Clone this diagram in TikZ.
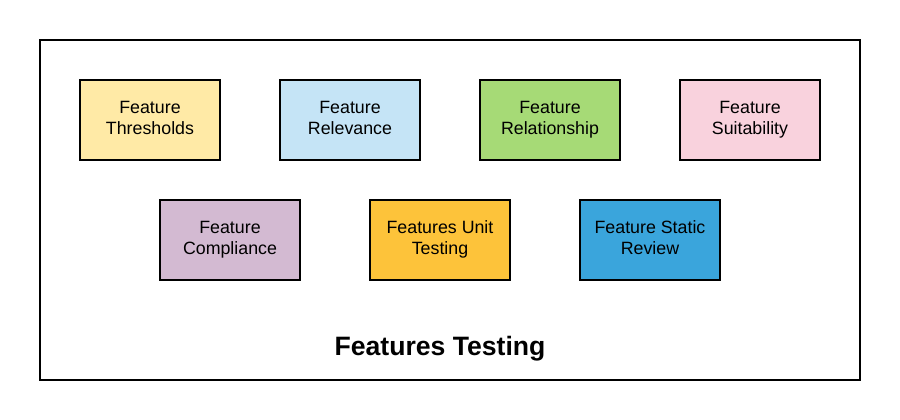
\documentclass[tikz,border=0pt]{standalone}
\usepackage{fontspec}
\setmainfont{Liberation Sans}
\definecolor{cThr}{HTML}{FFEAA6}
\definecolor{cRel}{HTML}{C5E4F6}
\definecolor{cRsh}{HTML}{A6DA76}
\definecolor{cSui}{HTML}{F9D2DD}
\definecolor{cCom}{HTML}{D3BAD2}
\definecolor{cUni}{HTML}{FDC33A}
\definecolor{cSta}{HTML}{3AA5DC}
\newcommand{\twolines}[2]{\strut#1\strut\\\strut#2\strut}
\begin{document}
\begin{tikzpicture}[x=1pt,y=-1pt,
  featbox/.style={draw=black,line width=2pt,minimum width=140pt,minimum height=80pt,align=center,font=\fontsize{17.8}{21}\selectfont,inner sep=0pt}]
\useasboundingbox (0,0) rectangle (900,420);
\draw[line width=2pt] (40,40) rectangle (860,380);
\node[featbox,fill=cThr] (thr) at (150,120) {\twolines{Feature}{Thresholds}};
\node[featbox,fill=cRel] (rel) at (350,120) {\twolines{Feature}{Relevance}};
\node[featbox,fill=cRsh] (rsh) at (550,120) {\twolines{Feature}{Relationship}};
\node[featbox,fill=cSui] (sui) at (750,120) {\twolines{Feature}{Suitability}};
\node[featbox,fill=cCom] (com) at (230,240) {\twolines{Feature}{Compliance}};
\node[featbox,fill=cUni] (uni) at (440,240) {\twolines{Features Unit}{Testing}};
\node[featbox,fill=cSta] (sta) at (650,240) {\twolines{Feature Static}{Review}};
\node[font=\fontsize{26.6}{32}\selectfont\bfseries] (title) at (440,349) {Features Testing};
\end{tikzpicture}
\end{document}
